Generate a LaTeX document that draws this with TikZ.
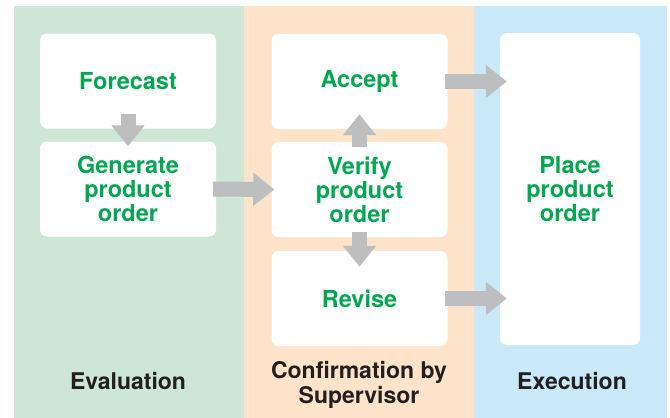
\documentclass[tikz,border=0pt]{standalone}
\usepackage{fontspec}
\setmainfont{TeX Gyre Heros}
\usetikzlibrary{arrows.meta}

\definecolor{evalbg}{HTML}{CDE6D6}
\definecolor{confbg}{HTML}{FDE3C9}
\definecolor{execbg}{HTML}{C9E8F8}
\definecolor{stepgreen}{HTML}{00A650}
\definecolor{arrowgray}{HTML}{BCBEC0}
\definecolor{lanetext}{HTML}{231F20}

\tikzset{
  stepbox/.style={fill=white, rounded corners=7pt, minimum width=176pt, minimum height=95pt,
    align=center, text=stepgreen, font=\bfseries\fontsize{23.5}{24}\selectfont, inner sep=0pt},
  lanelabel/.style={align=center, text=lanetext, font=\bfseries\fontsize{23}{25}\selectfont},
  blockarrow/.style={draw=arrowgray, line width=15pt, -{Triangle[width=32pt,length=21pt]}}
}

\begin{document}
\begin{tikzpicture}[x=1pt, y=-1pt]
    \useasboundingbox (0,0) rectangle (670,418);

    % Lanes
    \fill[evalbg] (14,6) rectangle (244,418);
    \fill[confbg] (244,6) rectangle (474,418);
    \fill[execbg] (474,6) rectangle (667,418);

    % Evaluation steps
    \node[stepbox] (forecast) at (128, 81) {Forecast};
    \node[stepbox] (generate) at (128, 189) {Generate\\product\\order};

    % Confirmation steps
    \node[stepbox] (accept) at (359.5, 81.5) {Accept};
    \node[stepbox] (verify) at (359.5, 189.5) {Verify\\product\\order};
    \node[stepbox] (revise) at (359.5, 298.5) {Revise};

    % Execution step
    \node[stepbox, minimum width=140pt, minimum height=312pt] (place) at (570, 189) {Place\\product\\order};

    % Arrows
    \draw[blockarrow] ([yshift=15pt]forecast.south) -- ([yshift=-5pt]generate.north);
    \draw[blockarrow] ([xshift=-3pt]generate.east) -- ([xshift=3pt]verify.west);
    \draw[blockarrow] ([yshift=-5pt]verify.north) -- ([yshift=15pt]accept.south);
    \draw[blockarrow] ([yshift=5pt]verify.south) -- ([yshift=-16pt]revise.north);
    \draw[blockarrow] ([xshift=-3pt]accept.east) -- ([xshift=7pt]place.west |- accept.east);
    \draw[blockarrow] ([xshift=-3pt]revise.east) -- ([xshift=7pt]place.west |- revise.east);

    % Lane labels
    \node[lanelabel] (evallabel) at (128, 381.5) {Evaluation};
    \node[lanelabel] (conflabel) at (359, 385) {Confirmation by\\Supervisor};
    \node[lanelabel] (execlabel) at (572, 381.5) {Execution};
\end{tikzpicture}
\end{document}
